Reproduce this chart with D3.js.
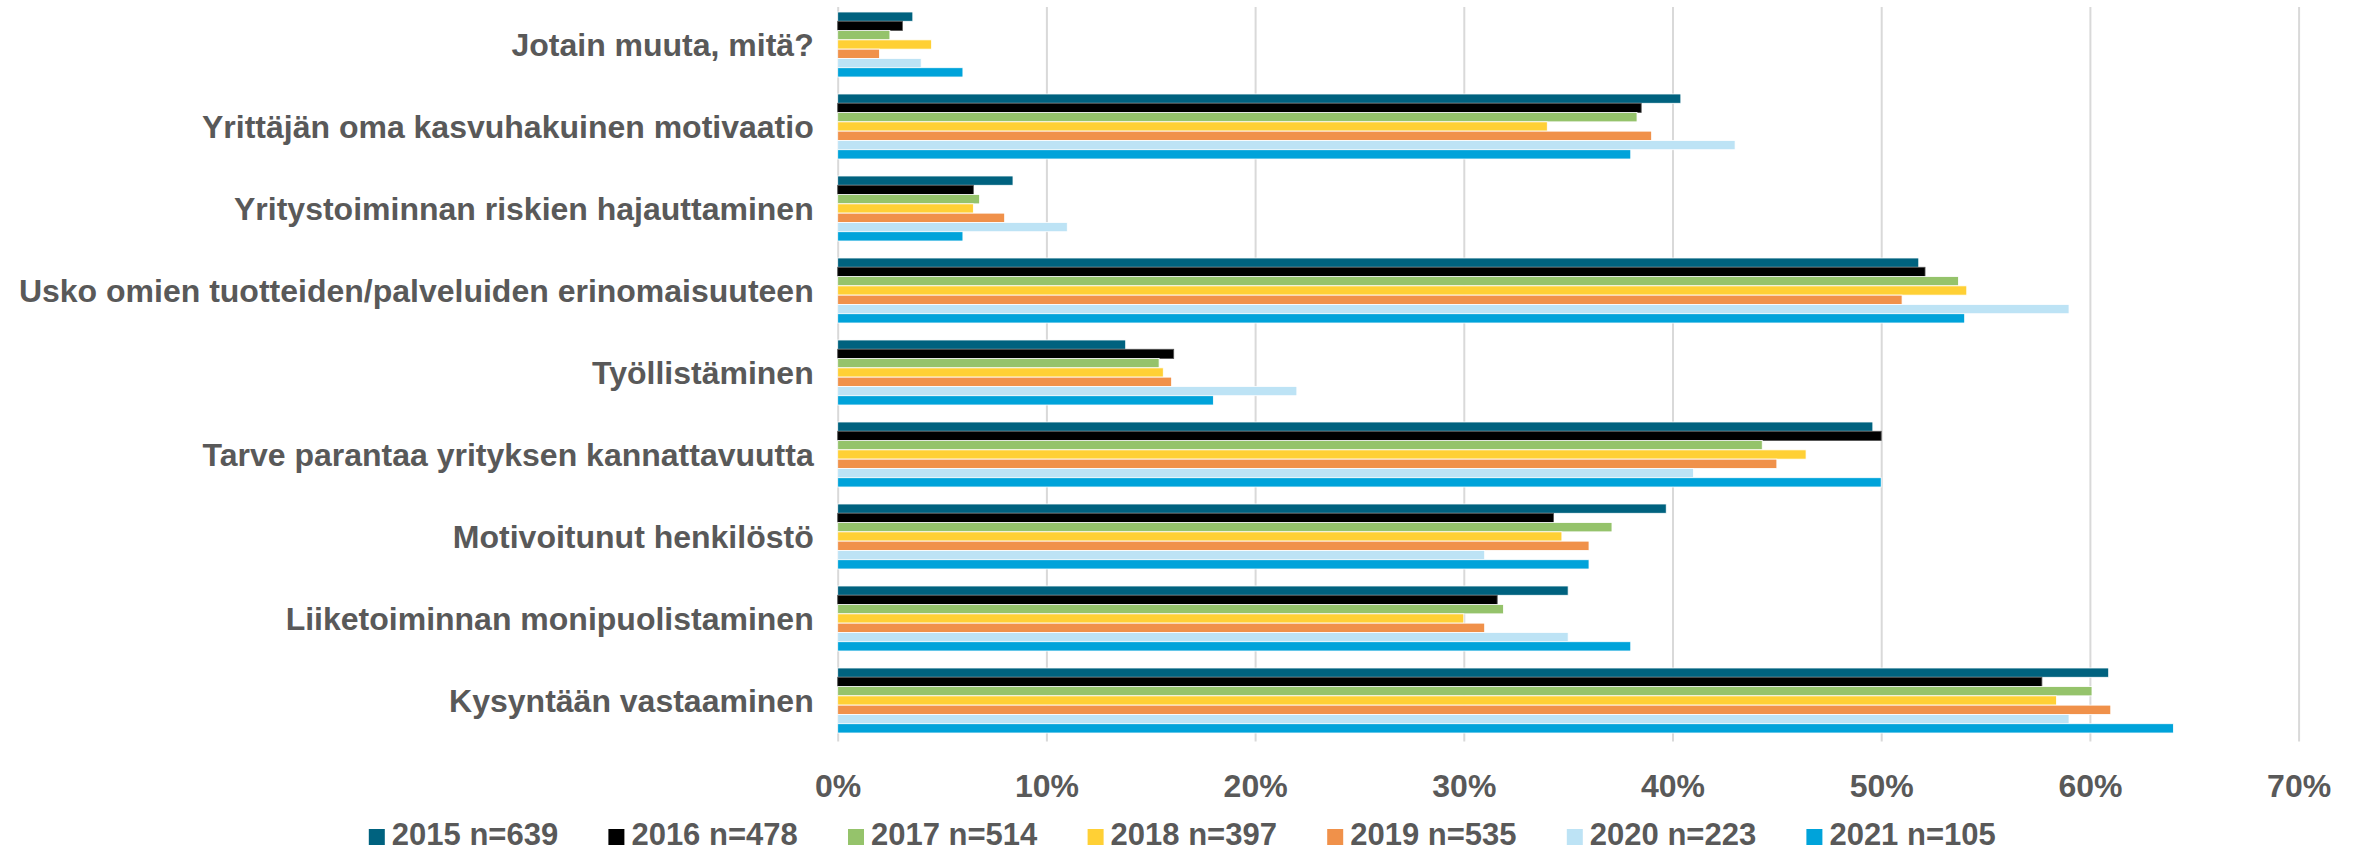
<!DOCTYPE html>
<html>
<head>
<meta charset="utf-8">
<script src="https://cdn.jsdelivr.net/npm/d3@7"></script>
<style>
  html, body { margin: 0; padding: 0; background: #fff; }
  svg { display: block; }
  text { font-family: "Liberation Sans", Arial, sans-serif; font-weight: bold; fill: #595959; }
</style>
</head>
<body>
<svg id="chart" width="2361" height="853"></svg>
<script>
const categories = [
  "Jotain muuta, mitä?",
  "Yrittäjän oma kasvuhakuinen motivaatio",
  "Yritystoiminnan riskien hajauttaminen",
  "Usko omien tuotteiden/palveluiden erinomaisuuteen",
  "Työllistäminen",
  "Tarve parantaa yrityksen kannattavuutta",
  "Motivoitunut henkilöstö",
  "Liiketoiminnan monipuolistaminen",
  "Kysyntään vastaaminen"
];
const seriesNames = ["2015 n=639", "2016 n=478", "2017 n=514", "2018 n=397", "2019 n=535", "2020 n=223", "2021 n=105"];
const seriesColors = ["#00627F", "#000000", "#95C36B", "#FFD035", "#F0914A", "#BDE3F5", "#00A3DA"];

// values in % per series, same order as categories
const v2015 = [3.6, 40.4, 8.4, 51.8, 13.8, 49.6, 39.7, 35.0, 60.9];
const v2016 = [3.1, 38.5, 6.5, 52.1, 16.1, 50.0, 34.3, 31.6, 57.7];
const v2017 = [2.5, 38.3, 6.8, 53.7, 15.4, 44.3, 37.1, 31.9, 60.1];
const v2018 = [4.5, 34.0, 6.5, 54.1, 15.6, 46.4, 34.7, 30.0, 58.4];
const v2019 = [2.0, 39.0, 8.0, 51.0, 16.0, 45.0, 36.0, 31.0, 61.0];
const v2020 = [4.0, 43.0, 11.0, 59.0, 22.0, 41.0, 31.0, 35.0, 59.0];
const v2021 = [6.0, 38.0, 6.0, 54.0, 18.0, 50.0, 36.0, 38.0, 64.0];
const seriesValues = [v2015, v2016, v2017, v2018, v2019, v2020, v2021];

const xTicks = [0, 0.1, 0.2, 0.3, 0.4, 0.5, 0.6, 0.7];

const svg = d3.select("#chart");

const x = d3.scaleLinear().domain([0, 0.7]).range([837.7, 2298.6]);
const y0 = d3.scaleBand().domain(categories).range([3.5, 741.5]).paddingInner(0.207).paddingOuter(0.1035);
const y1 = d3.scaleBand().domain(seriesNames).range([0, y0.bandwidth()]);
const color = d3.scaleOrdinal().domain(seriesNames).range(seriesColors);

// gridlines
const grid = svg.append("g")
  .attr("transform", "translate(0,741.5)")
  .call(d3.axisBottom(x).tickValues(xTicks).tickSize(-(741.5 - 7)).tickFormat(""));
grid.select(".domain").remove();
grid.selectAll(".tick line").attr("stroke", "#d9d9d9").attr("stroke-width", 2);

// bars
const groups = svg.append("g").selectAll("g")
  .data(categories)
  .join("g")
  .attr("transform", d => `translate(0,${y0(d)})`);

groups.selectAll("rect")
  .data((c, ci) => seriesNames.map((s, si) => ({ s, v: seriesValues[si][ci] / 100 })))
  .join("rect")
  .attr("x", x(0))
  .attr("y", d => y1(d.s))
  .attr("width", d => x(d.v) - x(0))
  .attr("height", y1.bandwidth())
  .attr("fill", d => color(d.s))
  .attr("stroke", d => d.s === seriesNames[1] ? "#555" : "#fff")
  .attr("stroke-width", 0.8);

// x axis labels
const xa = svg.append("g")
  .attr("transform", "translate(0,741.5)")
  .call(d3.axisBottom(x).tickValues(xTicks).tickSize(0).tickPadding(0).tickFormat(d3.format(".0%")));
xa.select(".domain").remove();
xa.selectAll("text")
  .attr("dy", null)
  .attr("y", 55)
  .style("font-size", "32px")
  .style("font-family", "'Liberation Sans', Arial, sans-serif")
  .style("font-weight", "bold")
  .attr("fill", "#595959");

// category labels
const ya = svg.append("g")
  .attr("transform", `translate(${x(0)},0)`)
  .call(d3.axisLeft(y0).tickSize(0).tickPadding(24));
ya.select(".domain").remove();
ya.selectAll("text")
  .attr("dy", "0.35em")
  .style("font-size", "32px")
  .style("font-family", "'Liberation Sans', Arial, sans-serif")
  .style("font-weight", "bold")
  .attr("fill", "#595959");

// legend
const legend = svg.append("g");
const lx = d3.scalePoint().domain(seriesNames).range([368.8, 368.8 + 6 * 239.6]);
const li = legend.selectAll("g").data(seriesNames).join("g")
  .attr("transform", d => `translate(${lx(d)},829)`);
li.append("rect").attr("width", 16).attr("height", 16).attr("fill", d => color(d));
li.append("text").attr("x", 23).attr("y", 16).style("font-size", "31px").text(d => d);
</script>
</body>
</html>
